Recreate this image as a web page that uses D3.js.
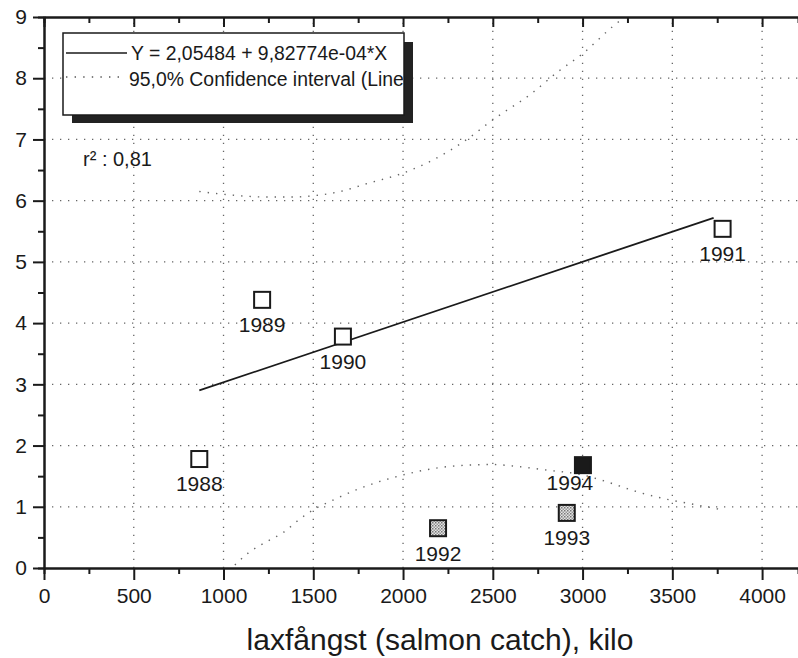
<!DOCTYPE html>
<html><head><meta charset="utf-8">
<script src="https://cdn.jsdelivr.net/npm/d3@7"></script>
<style>
body{margin:0;background:#fff;}
text{font-family:"Liberation Sans",Arial,sans-serif;fill:#1a1a1a;}
</style></head>
<body><svg id="c" width="798" height="658"></svg>
<script>
// ---- data ----
const years   = [1988, 1989, 1990, 1991, 1992, 1993, 1994];
const catchKg = [865, 1215, 1665, 3780, 2195, 2912, 3002];
const yValues = [1.78, 4.38, 3.78, 5.54, 0.65, 0.90, 1.68];
const markerType = ["open","open","open","open","hatched","hatched","solid"];
const xTicks = [0, 500, 1000, 1500, 2000, 2500, 3000, 3500, 4000];
const yTicks = [0, 1, 2, 3, 4, 5, 6, 7, 8, 9];
// regression line endpoints (Y = 2,05484 + 9,82774e-04*X)
const regX = [865, 3730];
const regY = [2.90, 5.72];
// 95% confidence band (upper / lower)
const upperX = [865, 1050, 1240, 1400, 1500, 1650, 1800, 2000, 2170, 2355, 2500, 2720, 2860, 3000, 3170, 3280];
const upperY = [6.15, 6.09, 6.06, 6.06, 6.08, 6.15, 6.28, 6.45, 6.67, 7.0, 7.32, 7.76, 8.1, 8.4, 8.85, 9.1];
const lowerX = [1030, 1140, 1240, 1333, 1425, 1500, 1610, 1760, 2000, 2180, 2355, 2500, 2630, 2800, 3000, 3100, 3310, 3490, 3600, 3780];
const lowerY = [-0.05, 0.25, 0.43, 0.58, 0.80, 0.95, 1.11, 1.30, 1.52, 1.63, 1.68, 1.69, 1.66, 1.60, 1.52, 1.44, 1.24, 1.11, 1.05, 0.95];
const legendLabels = ["Y = 2,05484 + 9,82774e-04*X", "95,0% Confidence interval (Line"];
const r2Label = "r\u00B2 : 0,81";
const xTitle = "laxfångst (salmon catch), kilo";

// ---- layout ----
const svg = d3.select("#c");
const L = 44, R = 798, T = 17, B = 568;
const x = d3.scaleLinear().domain([0, 4200]).range([L, R]);
const y = d3.scaleLinear().domain([0, 9]).range([B, T]);
const ink = "#1a1a1a";

const defs = svg.append("defs");
defs.append("clipPath").attr("id","plotclip").append("rect")
  .attr("x", L).attr("y", T).attr("width", R - L).attr("height", B - T);
const pat = defs.append("pattern").attr("id","halftone").attr("patternUnits","userSpaceOnUse")
  .attr("width", 3).attr("height", 3);
pat.append("rect").attr("width",3).attr("height",3).attr("fill","#e4e4e4");
pat.append("rect").attr("width",1.5).attr("height",1.5).attr("fill","#777");
pat.append("rect").attr("x",1.5).attr("y",1.5).attr("width",1.5).attr("height",1.5).attr("fill","#999");

// grid
const grid = svg.append("g").attr("stroke","#666").attr("stroke-width",1.3)
  .attr("stroke-dasharray","1.3,6.7");
grid.selectAll("line.gx").data(xTicks.filter(d => d > 0)).join("line")
  .attr("x1", d => x(d)).attr("x2", d => x(d)).attr("y1", B).attr("y2", T);
grid.selectAll("line.gy").data(yTicks.filter(d => d > 0 && d < 9)).join("line")
  .attr("y1", d => y(d)).attr("y2", d => y(d)).attr("x1", L).attr("x2", R);

// confidence band
const band = svg.append("g").attr("clip-path","url(#plotclip)");
const line = d3.line().x(d => x(d[0])).y(d => y(d[1])).curve(d3.curveMonotoneX);
[[upperX, upperY], [lowerX, lowerY]].forEach(([xs, ys]) => {
  band.append("path").datum(xs.map((v, i) => [v, ys[i]]))
    .attr("d", line).attr("fill","none").attr("stroke","#666").attr("stroke-width",1.4)
    .attr("stroke-dasharray","1.4,7");
});

// regression line
svg.append("path").datum(regX.map((v, i) => [v, regY[i]]))
  .attr("d", d3.line().x(d => x(d[0])).y(d => y(d[1])))
  .attr("fill","none").attr("stroke", ink).attr("stroke-width",1.8);

// markers
const pts = years.map((yr, i) => ({yr, cx: catchKg[i], cy: yValues[i], t: markerType[i]}));
const S = 16;
svg.append("g").selectAll("rect").data(pts).join("rect")
  .attr("x", d => x(d.cx) - S/2).attr("y", d => y(d.cy) - S/2)
  .attr("width", S).attr("height", S)
  .attr("fill", d => d.t === "open" ? "#fff" : d.t === "solid" ? ink : "url(#halftone)")
  .attr("stroke", ink).attr("stroke-width", 2);

// labels
const nudge = {1994: [-13, -7]};
svg.append("g").selectAll("text").data(pts).join("text")
  .attr("x", d => x(d.cx) + (nudge[d.yr] ? nudge[d.yr][0] : 0))
  .attr("y", d => y(d.cy) + 25 + (nudge[d.yr] ? nudge[d.yr][1] : 0))
  .attr("dy","0.35em").attr("text-anchor","middle")
  .style("font-size","21px").text(d => d.yr);

// r² label
svg.append("text").attr("x", 83).attr("y", 159).attr("dy","0.35em")
  .style("font-size","20px").text(r2Label);

// legend
const lg = svg.append("g");
lg.append("rect").attr("x", 72).attr("y", 42).attr("width", 341).attr("height", 81).attr("fill", "#222");
lg.append("rect").attr("x", 63).attr("y", 33).attr("width", 341).attr("height", 82)
  .attr("fill","#fff").attr("stroke", ink).attr("stroke-width",1.5);
defs.append("clipPath").attr("id","lgclip").append("rect")
  .attr("x", 63).attr("y", 33).attr("width", 340).attr("height", 82);
const lgi = lg.append("g").attr("clip-path","url(#lgclip)");
lgi.append("line").attr("x1", 66).attr("x2", 127).attr("y1", 53).attr("y2", 53)
  .attr("stroke", ink).attr("stroke-width", 1.4);
lgi.append("line").attr("x1", 66).attr("x2", 123).attr("y1", 77).attr("y2", 77)
  .attr("stroke", "#555").attr("stroke-width", 1.4).attr("stroke-dasharray","1.4,7.2");
lgi.selectAll("text").data(legendLabels).join("text")
  .attr("x", (d, i) => i === 0 ? 131 : 129).attr("y", (d, i) => 53 + i * 26).attr("dy","0.35em")
  .style("font-size","19.4px").text(d => d);

// axes
const axStyle = g => {
  g.select(".domain").attr("stroke", ink).attr("stroke-width", 2);
  g.selectAll(".tick line").attr("stroke", ink).attr("stroke-width", 2);
  g.selectAll(".tick text").style("font-size","21px").attr("fill", ink)
   .style("font-family","'Liberation Sans',Arial,sans-serif");
};
const minorX = d3.range(250, 4200, 500);
const minorY = d3.range(0.5, 9, 1);

svg.append("g").attr("transform",`translate(0,${B})`)
  .call(d3.axisBottom(x).tickValues(minorX).tickSize(6).tickFormat("")).call(axStyle);
svg.append("g").attr("transform",`translate(0,${B})`)
  .call(d3.axisBottom(x).tickValues(xTicks).tickSize(12).tickSizeOuter(0).tickPadding(8).tickFormat(d3.format("d")))
  .call(axStyle);

svg.append("g").attr("transform",`translate(0,${T})`)
  .call(d3.axisTop(x).tickValues(minorX).tickSize(-6).tickFormat("")).call(axStyle);
svg.append("g").attr("transform",`translate(0,${T})`)
  .call(d3.axisTop(x).tickValues(xTicks).tickSize(-10).tickSizeOuter(0).tickFormat(""))
  .call(axStyle);

svg.append("g").attr("transform",`translate(${L},0)`)
  .call(d3.axisLeft(y).tickValues(minorY).tickSize(6).tickFormat("")).call(axStyle);
svg.append("g").attr("transform",`translate(${L},0)`)
  .call(d3.axisLeft(y).tickValues(yTicks).tickSize(11).tickSizeOuter(0).tickPadding(6).tickFormat(d3.format("d")))
  .call(axStyle);

// x title
svg.append("text").attr("x", 440).attr("y", 650).attr("text-anchor","middle")
  .style("font-size","30px").text(xTitle);
</script></body></html>
